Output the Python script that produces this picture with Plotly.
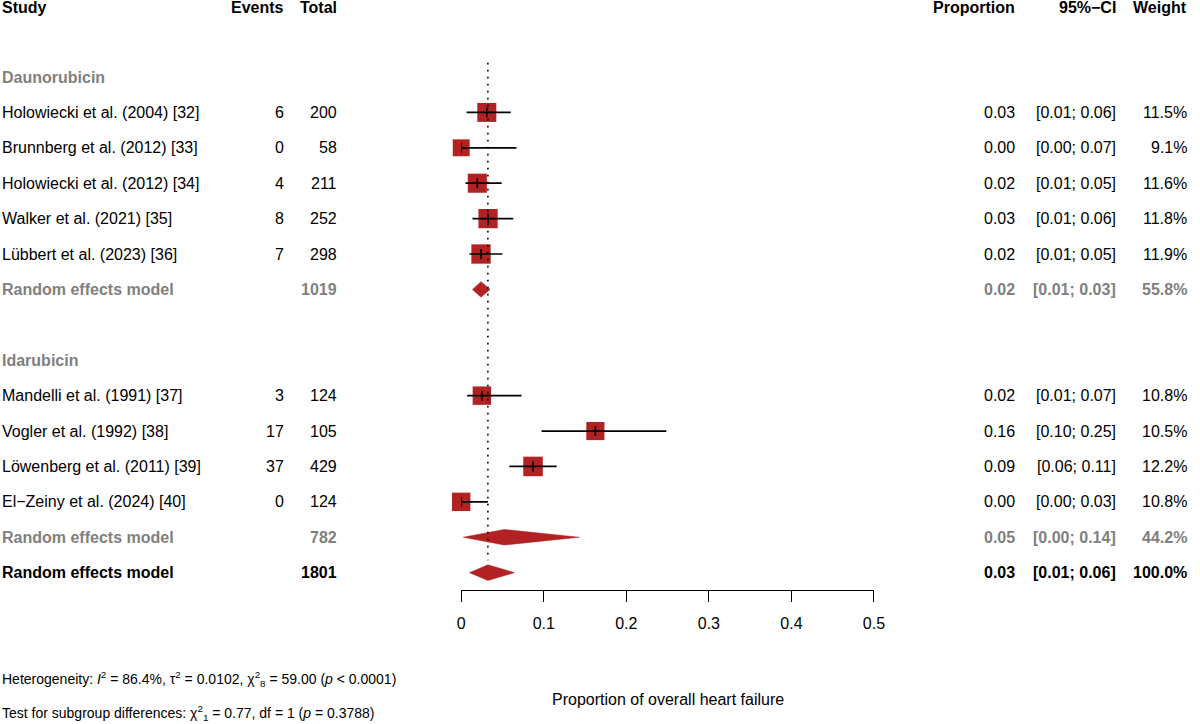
import plotly.graph_objects as go

# study level data
daun_studies = ["Holowiecki et al. (2004) [32]", "Brunnberg et al. (2012) [33]",
                "Holowiecki et al. (2012) [34]", "Walker et al. (2021) [35]",
                "Lübbert et al. (2023) [36]"]
daun_events = [6, 0, 4, 8, 7]
daun_total = [200, 58, 211, 252, 298]
daun_est = [0.031, 0.0, 0.0195, 0.0325, 0.024]
daun_lo = [0.0065, 0.0, 0.0052, 0.0136, 0.0100]
daun_hi = [0.060, 0.067, 0.049, 0.063, 0.050]
daun_prop = ["0.03", "0.00", "0.02", "0.03", "0.02"]
daun_ci = ["[0.01; 0.06]", "[0.00; 0.07]", "[0.01; 0.05]", "[0.01; 0.06]", "[0.01; 0.05]"]
daun_weight = [11.5, 9.1, 11.6, 11.8, 11.9]

ida_studies = ["Mandelli et al. (1991) [37]", "Vogler et al. (1992) [38]",
               "Löwenberg et al. (2011) [39]", "El\u2212Zeiny et al. (2024) [40]"]
ida_events = [3, 17, 37, 0]
ida_total = [124, 105, 429, 124]
ida_est = [0.025, 0.1625, 0.087, 0.0]
ida_lo = [0.0072, 0.0973, 0.0582, 0.0]
ida_hi = [0.073, 0.2484, 0.1156, 0.0323]
ida_prop = ["0.02", "0.16", "0.09", "0.00"]
ida_ci = ["[0.01; 0.07]", "[0.10; 0.25]", "[0.06; 0.11]", "[0.00; 0.03]"]
ida_weight = [10.8, 10.5, 12.2, 10.8]

# random effects summaries: daunorubicin, idarubicin, overall
re_total = [1019, 782, 1801]
re_est = [0.024, 0.052, 0.0323]
re_lo = [0.0136, 0.0024, 0.010]
re_hi = [0.035, 0.143, 0.0646]
re_prop = ["0.02", "0.05", "0.03"]
re_ci = ["[0.01; 0.03]", "[0.00; 0.14]", "[0.01; 0.06]"]
re_weight = ["55.8%", "44.2%", "100.0%"]

groups = ["Daunorubicin", "Idarubicin"]
headers = ["Study", "Events", "Total", "Proportion", "95%\u2212CI", "Weight"]

RED = "#B22222"
GREY = "#808080"
FONT = "Liberation Sans, Arial, sans-serif"
W, H = 1200, 724

# row layout (row 0 = header)
daun_rows = [3, 4, 5, 6, 7]
ida_rows = [11, 12, 13, 14]
re_rows = [8, 15, 16]
group_rows = [2, 10]

fig = go.Figure()

est = daun_est + ida_est
lo = daun_lo + ida_lo
hi = daun_hi + ida_hi
rows = daun_rows + ida_rows
wts = daun_weight + ida_weight

# squares
fig.add_trace(go.Scatter(
    x=est, y=rows, mode="markers", cliponaxis=False,
    marker=dict(symbol="square", color=RED, opacity=1,
                size=[5.6 * w ** 0.5 for w in wts], line=dict(width=0)),
    hoverinfo="skip", showlegend=False))

# CI lines and estimate ticks
cx, cy, tx, ty = [], [], [], []
for e, l, h, r in zip(est, lo, hi, rows):
    cx += [l, h, None]
    cy += [r, r, None]
    tx += [e, e, None]
    ty += [r - 0.14, r + 0.14, None]
fig.add_trace(go.Scatter(x=cx, y=cy, mode="lines", cliponaxis=False,
                         line=dict(color="black", width=1.7),
                         hoverinfo="skip", showlegend=False))
fig.add_trace(go.Scatter(x=tx, y=ty, mode="lines", cliponaxis=False,
                         line=dict(color="black", width=1.7),
                         hoverinfo="skip", showlegend=False))

# diamonds
for e, l, h, r in zip(re_est, re_lo, re_hi, re_rows):
    hh = 0.22
    fig.add_trace(go.Scatter(
        x=[l, e, h, e, l], y=[r, r - hh, r, r + hh, r], mode="lines",
        fill="toself", fillcolor=RED, line=dict(color=RED, width=0.5),
        hoverinfo="skip", showlegend=False))

# reference line at overall estimate
fig.add_shape(type="line", x0=re_est[2], x1=re_est[2], y0=1.6, y1=15.65,
              xref="x", yref="y",
              line=dict(color="black", width=1.6, dash="1.6px,5.4px"))

ann = []


def txt(s, px, row, anchor="left", bold=False, color="black", size=16):
    if bold:
        s = "<b>" + s + "</b>"
    ann.append(dict(text=s, x=px / W, y=row, xref="paper", yref="y",
                    xanchor=anchor, yanchor="middle", showarrow=False,
                    font=dict(family=FONT, size=size, color=color)))


col_x = [-4, 286, 339, 1026, 1128, 1200]
col_anchor = ["left", "right", "right", "right", "right", "right"]
for h, px, a in zip(headers, col_x, col_anchor):
    txt(h, px, 0.05, a, bold=True)

for g, r in zip(groups, group_rows):
    txt(g, col_x[0], r, bold=True, color=GREY)

study_txt = daun_studies + ida_studies
ev = daun_events + ida_events
tot = daun_total + ida_total
prop = daun_prop + ida_prop
ci = daun_ci + ida_ci
for i, r in enumerate(rows):
    vals = [study_txt[i], str(ev[i]), str(tot[i]), prop[i], ci[i], f"{wts[i]:.1f}%"]
    for v, px, a in zip(vals, col_x, col_anchor):
        txt(v, px, r, a)

for i, r in enumerate(re_rows):
    c = "black" if i == 2 else GREY
    vals = ["Random effects model", "", str(re_total[i]), re_prop[i], re_ci[i], re_weight[i]]
    for v, px, a in zip(vals, col_x, col_anchor):
        if v:
            txt(v, px, r, a, bold=True, color=c)

# footer texts
ann.append(dict(
    text="Heterogeneity: <i>I</i><sup>2</sup> = 86.4%, \u03c4<sup>2</sup> = 0.0102, "
         "\u03c7<sup>2</sup><sub>8</sub> = 59.00 (<i>p</i> < 0.0001)",
    x=-4 / W, y=(H - 679) / H, xref="paper", yref="paper", xanchor="left",
    yanchor="middle", showarrow=False, font=dict(family=FONT, size=14, color="black")))
ann.append(dict(
    text="Test for subgroup differences: \u03c7<sup>2</sup><sub>1</sub> = 0.77, "
         "df = 1 (<i>p</i> = 0.3788)",
    x=-4 / W, y=(H - 713) / H, xref="paper", yref="paper", xanchor="left",
    yanchor="middle", showarrow=False, font=dict(family=FONT, size=14, color="black")))
ann.append(dict(
    text="Proportion of overall heart failure", x=672 / W, y=(H - 699) / H,
    xref="paper", yref="paper", xanchor="center", yanchor="middle", showarrow=False,
    font=dict(family=FONT, size=16, color="black")))

fig.update_layout(
    width=W, height=H, margin=dict(l=0, r=0, t=0, b=0),
    plot_bgcolor="white", paper_bgcolor="white",
    annotations=ann,
    xaxis=dict(domain=[463 / W, 881 / W], range=[0, 0.5], showgrid=False, zeroline=False,
               showline=True, linecolor="black", linewidth=1.3, ticks="outside",
               ticklen=11, tickwidth=1.3, tickcolor="black",
               tickvals=[0, 0.1, 0.2, 0.3, 0.4, 0.5],
               ticktext=["0", "0.1", "0.2", "0.3", "0.4", "0.5"],
               ticklabelstandoff=8,
               tickfont=dict(family=FONT, size=16, color="black")),
    yaxis=dict(domain=[(H - 590) / H, 1], range=[16.49, -0.175], visible=False),
)

# no page margin / scrollbars so the 1200x724 figure fills the window exactly
page_js = ("document.body.style.margin='0px';"
           "document.body.style.overflow='hidden';"
           "document.documentElement.style.overflow='hidden';")
fig.write_html("out.html", config={"displayModeBar": False}, post_script=page_js)
